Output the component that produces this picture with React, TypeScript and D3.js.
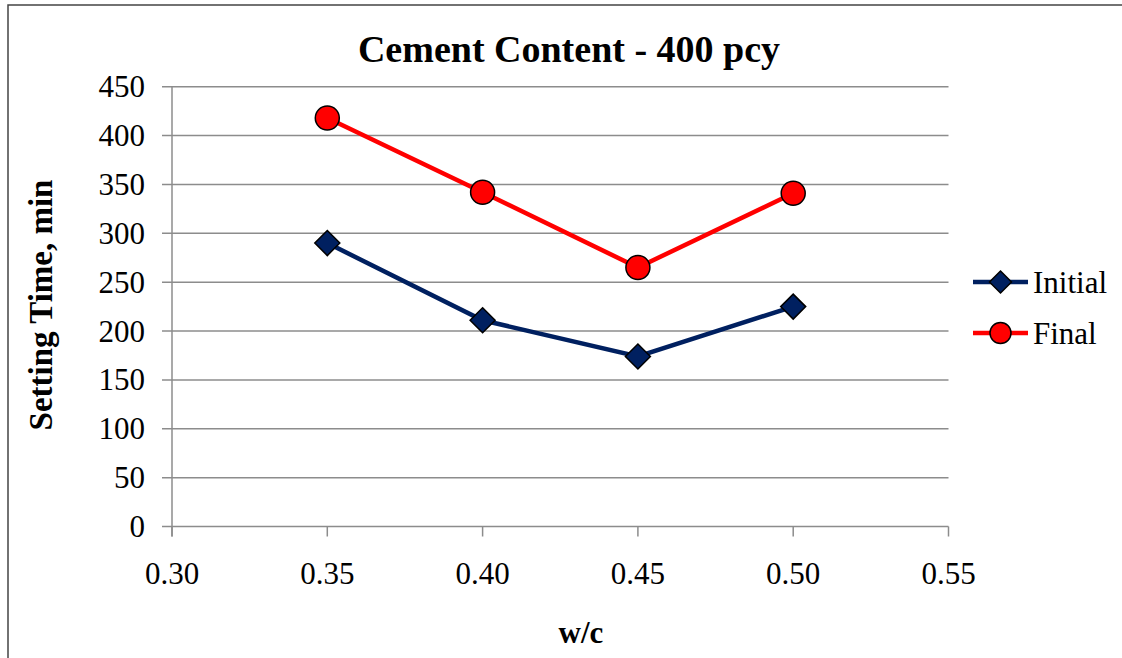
import React from "react";
import * as d3 from "d3";

const wc = [0.35, 0.4, 0.45, 0.5];
const initialTimes = [290, 211, 174, 225];
const finalTimes = [418, 342, 265, 341];
const xTicks = [0.3, 0.35, 0.4, 0.45, 0.5, 0.55];
const yTicks = [0, 50, 100, 150, 200, 250, 300, 350, 400, 450];

const W = 1122;
const H = 658;
const left = 172;
const right = 948.5;
const top = 86.7;
const bottom = 526.5;
const NAVY = "#002060";
const RED = "#ff0000";
const GRID = "#8c8c8c";
const FONT = "Liberation Serif, Times New Roman, serif";

export default function App() {
  const x = d3.scaleLinear().domain([0.3, 0.55]).range([left, right]);
  const y = d3.scaleLinear().domain([0, 450]).range([bottom, top]);
  const line = d3
    .line<number>()
    .x((_, i) => x(wc[i]))
    .y((d) => y(d));
  const diamond = (cx: number, cy: number, r: number) =>
    `M${cx},${cy - r}L${cx + r},${cy}L${cx},${cy + r}L${cx - r},${cy}Z`;

  return (
    <svg
      width={W}
      height={H}
      style={{ position: "absolute", left: 0, top: 0, background: "#fff", fontFamily: FONT }}
    >
      <rect x={8} y={5} width={1130} height={670} fill="#fff" stroke="#444" strokeWidth={1.5} />
      {yTicks.map((t) => (
        <line key={"g" + t} x1={left - 10} x2={right} y1={y(t)} y2={y(t)} stroke={GRID} strokeWidth={1.5} />
      ))}
      <line x1={left} x2={left} y1={top} y2={bottom + 10} stroke={GRID} strokeWidth={1.5} />
      {xTicks.map((t) => (
        <line key={"xt" + t} x1={x(t)} x2={x(t)} y1={bottom} y2={bottom + 10} stroke={GRID} strokeWidth={1.5} />
      ))}
      {yTicks.map((t) => (
        <text key={"yl" + t} x={145} y={y(t) + 10.5} textAnchor="end" fontSize={31} fill="#000">
          {t}
        </text>
      ))}
      {xTicks.map((t) => (
        <text key={"xl" + t} x={x(t)} y={584} textAnchor="middle" fontSize={31} fill="#000">
          {t.toFixed(2)}
        </text>
      ))}
      <text x={569} y={62} textAnchor="middle" fontSize={38} fontWeight="bold" fill="#000">
        Cement Content - 400 pcy
      </text>
      <text
        transform={`translate(${52},${305}) rotate(-90)`}
        textAnchor="middle"
        fontSize={33}
        fontWeight="bold"
        fill="#000"
      >
        Setting Time, min
      </text>
      <text x={581} y={643} textAnchor="middle" fontSize={31} fontWeight="bold" fill="#000">
        w/c
      </text>
      <path d={line(initialTimes) || ""} fill="none" stroke={NAVY} strokeWidth={4.5} />
      <path d={line(finalTimes) || ""} fill="none" stroke={RED} strokeWidth={4.5} />
      {initialTimes.map((v, i) => (
        <path key={"d" + i} d={diamond(x(wc[i]), y(v), 12.5)} fill={NAVY} stroke="#000" strokeWidth={1.5} />
      ))}
      {finalTimes.map((v, i) => (
        <circle key={"c" + i} cx={x(wc[i])} cy={y(v)} r={12} fill={RED} stroke="#000" strokeWidth={1.5} />
      ))}
      <line x1={973} x2={1028} y1={282} y2={282} stroke={NAVY} strokeWidth={4.5} />
      <path d={diamond(1000.5, 282, 11)} fill={NAVY} stroke="#000" strokeWidth={1.5} />
      <text x={1033} y={293} fontSize={31} fill="#000">
        Initial
      </text>
      <line x1={973} x2={1028} y1={333} y2={333} stroke={RED} strokeWidth={4.5} />
      <circle cx={1000.5} cy={333} r={10.5} fill={RED} stroke="#000" strokeWidth={1.5} />
      <text x={1033} y={344} fontSize={31} fill="#000">
        Final
      </text>
    </svg>
  );
}
